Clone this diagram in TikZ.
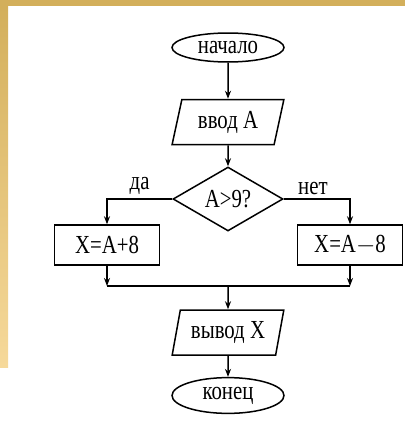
\documentclass[tikz,border=0pt]{standalone}
\usepackage{fontspec}
\setmainfont[FakeStretch=0.8]{Liberation Serif}
\usetikzlibrary{shapes.geometric,arrows.meta}
\definecolor{barTop}{HTML}{D3AF5B}
\definecolor{barLow}{HTML}{F6D99A}
\begin{document}
\begin{tikzpicture}[x=1pt,y=-1pt,
	term/.style={shape=ellipse, draw=black, line width=1.5pt, minimum width=112pt, minimum height=27pt, inner xsep=0pt, inner ysep=4pt},
	io/.style={shape=trapezium, trapezium left angle=74, trapezium right angle=106, trapezium stretches=true, draw=black, line width=1.5pt, minimum width=112pt, minimum height=45pt, inner sep=0pt},
	act/.style={shape=rectangle, draw=black, line width=1.5pt, minimum width=105pt, minimum height=40pt, inner sep=0pt},
	cond/.style={shape=diamond, draw=black, line width=1.5pt, minimum width=110pt, minimum height=62pt, inner sep=0pt},
	flow/.style={line width=1.5pt, -{Stealth[length=8pt,width=6pt]}},
	font=\fontsize{26}{28}\selectfont]
	\useasboundingbox (0,0) rectangle (405,426);
	% slide border
	\fill [barTop] (0,0) rectangle (405,6);
	\shade [top color=barTop, bottom color=barLow] (0,6) rectangle (8,367);
	% flowchart
	\node (start) at (228,47.5) [term] {начало};
	\node (input) at (228,122) [io] {ввод А};
	\node (test) at (228,199) [cond] {А>9?};
	\node (plus) at (107,245) [act] {X=А+8};
	\node (minus) at (350,245) [act] {X=А$-$8};
	\coordinate (joinL) at (107,286);
	\coordinate (joinR) at (350,286);
	\coordinate (joinM) at (228,286);
	\node (output) at (228,332.5) [io] {вывод X};
	\node (stop) at (228,395.5) [term] {конец};
	\draw [flow] (start) -- (input);
	\draw [flow] (input) -- (test);
	\draw [flow] (test.west) -| node [pos=0.25, above=0pt] {да} (plus.north);
	\draw [flow] (test.east) -| node [pos=0.22, above=0pt] {нет} (minus.north);
	\draw [flow] (plus.south) -- (joinL);
	\draw [flow] (minus.south) -- (joinR);
	\draw [line width=1.5pt] (joinL) -- (joinR);
	\draw [flow] (joinM) -- (output);
	\draw [flow] (output) -- (stop);
\end{tikzpicture}
\end{document}
